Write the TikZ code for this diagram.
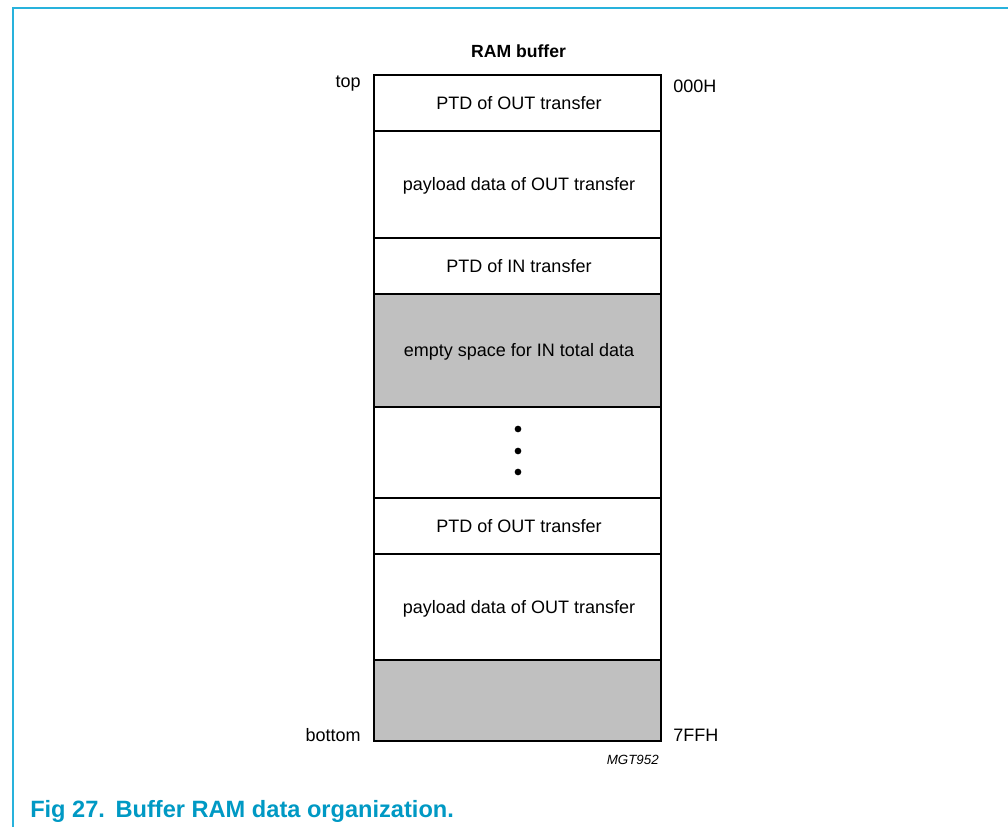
\documentclass[tikz,border=0pt]{standalone}
\usepackage{fontspec}
\setmainfont{Liberation Sans}
\definecolor{framec}{RGB}{40,178,220}
\definecolor{capc}{RGB}{0,153,196}
\definecolor{grayf}{RGB}{192,192,192}
\begin{document}
\begin{tikzpicture}[x=0.75pt,y=-0.75pt,
  lab/.style={font=\fontsize{13.5}{16}\selectfont, inner sep=0pt},
  cell/.style={draw=black, line width=0.95pt},
  shaded/.style={cell, fill=grayf},
  dot/.style={fill=black, circle, inner sep=0pt, minimum size=5pt},
  frameline/.style={draw=framec, line width=1.5pt}]
\useasboundingbox (0,0) rectangle (1008,827);
\fill[white] (0,0) rectangle (1008,827);
\draw[frameline] (12.5,827) -- (12.5,8) -- (1008,8);
% cells
\draw[cell]   (374,75)  rectangle (661,131);
\draw[cell]   (374,131) rectangle (661,238);
\draw[cell]   (374,238) rectangle (661,294);
\draw[shaded] (374,294) rectangle (661,407);
\draw[cell]   (374,407) rectangle (661,498);
\draw[cell]   (374,498) rectangle (661,554);
\draw[cell]   (374,554) rectangle (661,660);
\draw[shaded] (374,660) rectangle (661,741);
% texts
\node[lab, anchor=base] (c1) at (519,109.5) {PTD of OUT transfer};
\node[lab, anchor=base] (c2) at (519,191) {payload data of OUT transfer};
\node[lab, anchor=base] (c3) at (519,272.5) {PTD of IN transfer};
\node[lab, anchor=base] (c4) at (519,357) {empty space for IN total data};
\node[lab, anchor=base] (c6) at (519,532.5) {PTD of OUT transfer};
\node[lab, anchor=base] (c7) at (519,613.5) {payload data of OUT transfer};
\node[dot] (d1) at (518,429) {};
\node[dot] (d2) at (518,451) {};
\node[dot] (d3) at (518,472) {};
\node[lab, font=\fontsize{13.2}{16}\selectfont\bfseries, anchor=base] (title) at (518.5,58) {RAM buffer};
\node[lab, anchor=base east] (top) at (361,88) {top};
\node[lab, anchor=base east] (bottom) at (361,741) {bottom};
\node[lab, anchor=base west] (a0) at (673,93) {000H};
\node[lab, anchor=base west] (a1) at (673,741) {7FFH};
\node[inner sep=0pt, font=\fontsize{10}{12}\selectfont\itshape, anchor=base east] (code) at (659,764) {MGT952};
\node[inner sep=0pt, font=\fontsize{17.7}{20}\selectfont\bfseries, text=capc, anchor=base west] (cap) at (30,817) {Fig 27.\hspace{0.45em}Buffer RAM data organization.};
\end{tikzpicture}
\end{document}
